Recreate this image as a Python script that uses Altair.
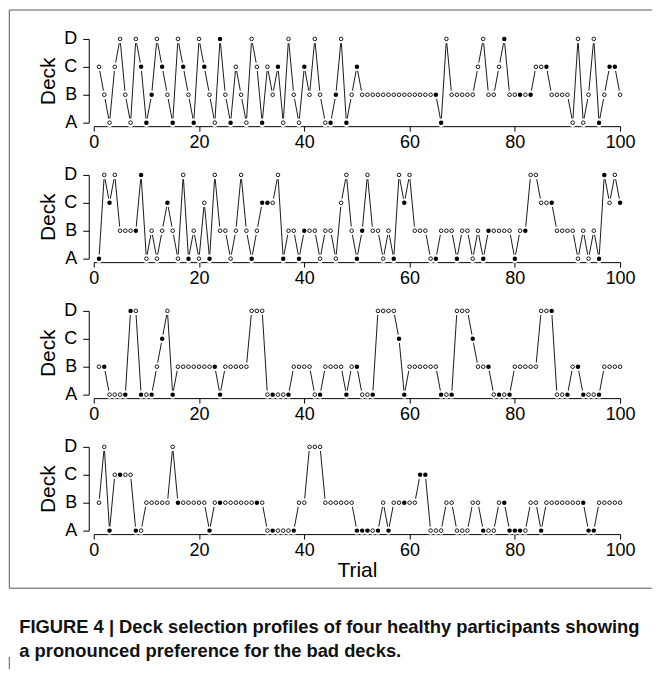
import altair as alt
import pandas as pd

# ---------------- data ----------------
trials = list(range(1, 101))

deck_p1 = list("CBACDBADCA" "BDCBADCBAD" "CBADBACBAD" "CACBCADBAC" "BDBAABDABC"
               "BBBBBBBBBB" "BBBBBADBBB" "BBCDBBCDBB" "BBBCCCBBBB" "ADABDABCCB")
filled_p1 = [9, 10, 11, 13, 15, 17, 19, 21, 24, 26, 32, 35, 40, 45, 46, 48, 50,
             65, 66, 78, 81, 83, 86, 96, 98, 99]

deck_p2 = list("ADCDBBBBDA" "BABCBADABA" "CADBBABDBA" "BCCCDABBAB" "BBABBACDBA"
               "BDBBABADCD" "BBBAABBBAB" "BABABBBBBA" "BBDDCCCBBB" "BABABADCDC")
filled_p2 = [1, 3, 8, 9, 14, 18, 22, 30, 32, 33, 36, 39, 40, 50, 51, 57, 59,
             65, 69, 74, 75, 80, 82, 87, 96, 97, 100]

deck_p3 = list("BBAAAADDAA" "ABCDABBBBB" "BBBABBBBBD" "DDAAAAABBB" "BAABBBBABB"
               "AAADDDDCAB" "BBBBBAAADD" "DCBBBAAAAB" "BBBBDDDAAA" "BBAAAABBBB")
filled_p3 = [2, 6, 7, 9, 11, 13, 15, 23, 24, 34, 37, 43, 48, 50, 53, 58, 59,
             66, 68, 72, 75, 77, 79, 87, 90, 92, 93, 96]

deck_p4 = list("BDACCCCAAB" "BBBBDBBBBB" "BABBBBBBBB" "BBAAAAAABB" "DDDBBBBBBA"
               "AAAABABBBB" "BCCAAABBAA" "ABBAAABBAA" "AABBABBBBB" "BBBAABBBBB")
filled_p4 = [3, 5, 8, 16, 22, 24, 31, 34, 38, 50, 51, 52, 54, 56, 59, 62, 63,
             74, 78, 79, 80, 81, 85, 93, 94, 95]

deck_levels = ["A", "B", "C", "D"]
x_ticks = [0, 20, 40, 60, 80, 100]
caption_lines = [
    "FIGURE 4 | Deck selection profiles of four healthy participants showing",
    "a pronounced preference for the bad decks.",
]

panels = [(deck_p1, filled_p1), (deck_p2, filled_p2),
          (deck_p3, filled_p3), (deck_p4, filled_p4)]

FONT = "Liberation Sans"
W, H = 528, 84


def make_df(decks, filled):
    return pd.DataFrame({
        "trial": trials,
        "deck": [deck_levels.index(d) + 1 for d in decks],
        "filled": [t in filled for t in trials],
    })


def panel(i):
    decks, filled = panels[i]
    df = make_df(decks, filled)
    last = i == len(panels) - 1
    xaxis = alt.Axis(values=x_ticks, offset=3.5, tickSize=5, labelPadding=2,
                     labelFlush=False, labelOverlap=False,
                     labelFontSize=18, labelFont=FONT, titleFont=FONT,
                     titleFontSize=21, titleFontWeight="normal", titlePadding=1,
                     grid=False, domainColor="black", tickColor="black",
                     labelColor="black", titleColor="black",
                     title="Trial" if last else None)
    yaxis = alt.Axis(values=[1, 2, 3, 4],
                     labelExpr="['','A','B','C','D'][datum.value]",
                     labelFlush=False, labelOverlap=False,
                     offset=5, tickSize=6, labelPadding=6, labelFontSize=18,
                     labelFont=FONT, titleFont=FONT, titleFontSize=21,
                     titleFontWeight="normal", titlePadding=5, grid=False,
                     domainColor="black", tickColor="black",
                     labelColor="black", titleColor="black", title="Deck")
    base = alt.Chart(df).encode(
        x=alt.X("trial:Q", scale=alt.Scale(domain=[0, 100], nice=False, zero=False),
                axis=xaxis),
        y=alt.Y("deck:Q", scale=alt.Scale(domain=[1, 4], nice=False, zero=False),
                axis=yaxis),
    )
    line = base.mark_line(color="#1a1a1a", strokeWidth=1)
    gap = base.mark_circle(size=72, color="white", opacity=1)
    open_pts = base.transform_filter("!datum.filled").mark_point(
        shape="circle", size=13, fill="white", stroke="black",
        fillOpacity=1, strokeWidth=0.9, opacity=1)
    fill_pts = base.transform_filter("datum.filled").mark_circle(
        size=20, color="black", opacity=1)
    layers = [line, gap, open_pts, fill_pts]

    if i == 0:
        one = pd.DataFrame({"k": [0]})
        frame_col = "#555555"
        top = alt.Chart(one).mark_rule(color=frame_col, strokeWidth=1).encode(
            x=alt.value(-84.7), x2=alt.value(560), y=alt.value(-29))
        left_a = alt.Chart(one).mark_rule(color=frame_col, strokeWidth=1).encode(
            x=alt.value(-84.7), y=alt.value(-29), y2=alt.value(551))
        bottom = alt.Chart(one).mark_rule(color=frame_col, strokeWidth=1).encode(
            x=alt.value(-84.7), x2=alt.value(560), y=alt.value(551))
        left_b = alt.Chart(one).mark_rule(color=frame_col, strokeWidth=1).encode(
            x=alt.value(-84.7), y=alt.value(620), y2=alt.value(632))
        cap = alt.Chart(pd.DataFrame({"txt": ["\n".join(caption_lines)]})).mark_text(
            align="left", baseline="middle", font=FONT, fontSize=18.4,
            fontWeight="bold", color="#111111", lineBreak="\n", lineHeight=24
        ).encode(x=alt.value(-74.7), y=alt.value(590), text="txt:N")
        layers += [top, left_a, bottom, left_b, cap]

    return alt.layer(*layers).properties(width=W, height=H)


chart = alt.vconcat(
    *[panel(i) for i in range(4)], spacing=52.4, bounds="flush", padding=0
).configure(
    font=FONT, background="white",
    view=alt.ViewConfig(stroke="transparent", strokeWidth=0),
)

chart.save("out.html", embed_options={"renderer": "svg", "actions": False})
